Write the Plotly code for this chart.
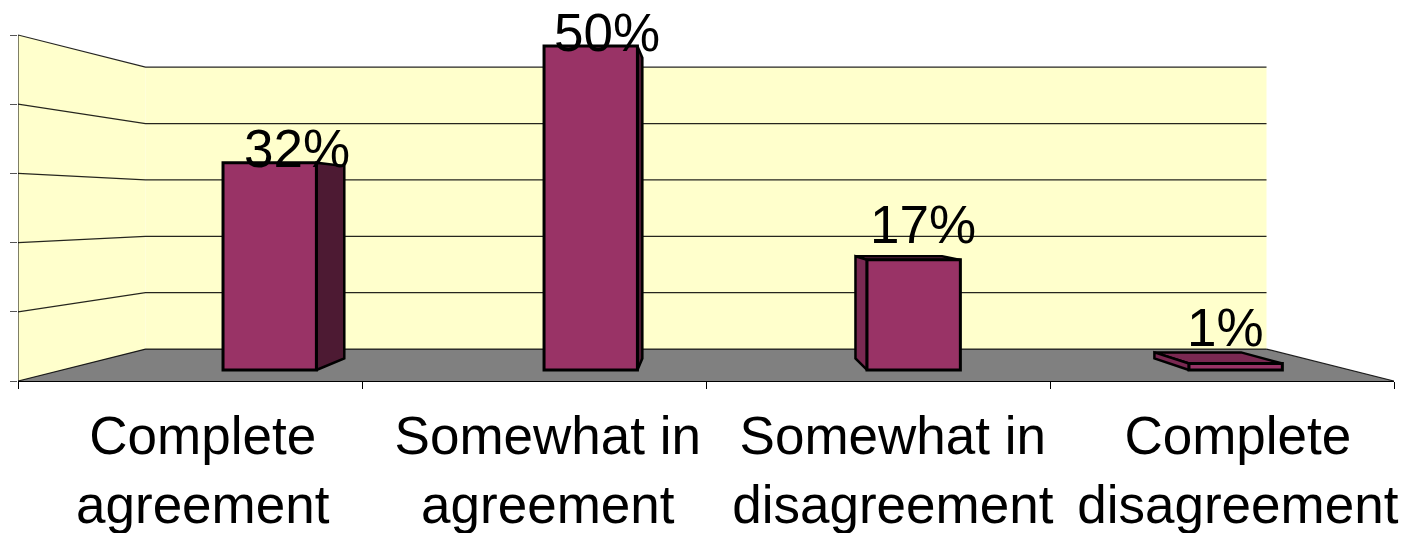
import plotly.graph_objects as go

# ---- data ----
categories = ["Complete<br>agreement", "Somewhat in<br>agreement",
              "Somewhat in<br>disagreement", "Complete<br>disagreement"]
values = [32, 50, 17, 1]
labels = ["32%", "50%", "17%", "1%"]
grid_values = [0, 10, 20, 30, 40, 50]
category_edges = [0, 1, 2, 3, 4]

# ---- perspective model (one vanishing point, front plane in axis units) ----
VP_X, VP_Y = 2.0, 24.9
DEPTH_BACK = 0.8147
DEPTH_BAR_FRONT = 0.936
DEPTH_BAR_BACK = 0.869
BAR_STARTS = [0.5, 1.497, 2.5, 3.5]
BAR_WIDTH = 0.29
PX_PER_Y = 6.92
Y_TOP = 381 / PX_PER_Y
TICK_LABEL_OFFSETS = [0.537, 0.54, 0.543, 0.546]
LABEL_XSHIFT = [27, 16, 9, -10]
LABEL_YSHIFT = [14, 14, 35, 36]


def proj(x, y, s):
    return VP_X + (x - VP_X) * s, VP_Y + (y - VP_Y) * s


def poly(points, fill, line=None, width=0, **kw):
    xs = [p[0] for p in points]
    ys = [p[1] for p in points]
    return go.Scatter(x=xs + xs[:1], y=ys + ys[:1], mode="lines", fill="toself",
                      fillcolor=fill, hoverinfo="skip", showlegend=False,
                      line=dict(color=line or fill, width=width), **kw)


fig = go.Figure()

# walls and floor
b0 = proj(0, 0, DEPTH_BACK)
b1 = proj(4, 0, DEPTH_BACK)
t0 = proj(0, 50, DEPTH_BACK)
t1 = proj(4, 50, DEPTH_BACK)
fig.add_trace(poly([(0, 0), b0, t0, (0, 50)], "#FFFFCC"))
fig.add_trace(poly([b0, b1, t1, t0], "#FFFFCC"))
fig.add_trace(poly([(0, 0), b0, b1, (4, 0)], "#808080"))

# grid lines
for g in grid_values:
    a = proj(0, g, DEPTH_BACK)
    c = proj(4, g, DEPTH_BACK)
    fig.add_trace(go.Scatter(x=[0, a[0], c[0]], y=[g, a[1], c[1]], mode="lines",
                             line=dict(color="#000000", width=1.2), opacity=0.85,
                             hoverinfo="skip", showlegend=False))
# floor edge at the right
fig.add_trace(go.Scatter(x=[b1[0], 4], y=[b1[1], 0], mode="lines",
                         line=dict(color="#000000", width=1.2), opacity=0.85,
                         hoverinfo="skip", showlegend=False))

# side and top faces of the bars
centers = []
for x0, v in zip(BAR_STARTS, values):
    x1 = x0 + BAR_WIDTH
    f = lambda x, y: proj(x, y, DEPTH_BAR_FRONT)
    k = lambda x, y: proj(x, y, DEPTH_BAR_BACK)
    centers.append(f((x0 + x1) / 2, 0)[0])
    if v < VP_Y:
        fig.add_trace(poly([f(x0, v), k(x0, v), k(x1, v), f(x1, v)], "#7A2952", "#000000", 2.5))
    if x1 < VP_X:
        fig.add_trace(poly([f(x1, 0), f(x1, v), k(x1, v), k(x1, 0)], "#4D1A33", "#000000", 2.5))
    else:
        fig.add_trace(poly([f(x0, 0), f(x0, v), k(x0, v), k(x0, 0)], "#7A2952", "#000000", 2.5))

# front faces: real bars on a value axis scaled for the depth of the bars
floor_bar = proj(0, 0, DEPTH_BAR_FRONT)[1]
y2_lo = (0 - floor_bar) / DEPTH_BAR_FRONT
y2_hi = (Y_TOP - floor_bar) / DEPTH_BAR_FRONT
fig.add_trace(go.Bar(x=centers, y=values, width=BAR_WIDTH * DEPTH_BAR_FRONT, yaxis="y2",
                     marker=dict(color="#993366", line=dict(color="#000000", width=3)),
                     hoverinfo="skip", showlegend=False))

for c, v, t, xs, ys in zip(centers, values, labels, LABEL_XSHIFT, LABEL_YSHIFT):
    fig.add_annotation(x=c, y=v, yref="y2", text=t, showarrow=False, xshift=xs, yshift=ys,
                       font=dict(size=53, color="#000000"), yanchor="middle", xanchor="center")

fig.update_layout(
    width=1405, height=533, margin=dict(l=18, r=11, t=0, b=152, autoexpand=False),
    paper_bgcolor="#FFFFFF", plot_bgcolor="rgba(0,0,0,0)",
    font=dict(family="Liberation Sans, Arial, sans-serif", color="#000000"),
    showlegend=False,
    xaxis=dict(range=[0, 4], tickmode="array", automargin=False,
               tickvals=[e + o for e, o in zip(category_edges[:-1], TICK_LABEL_OFFSETS)],
               ticktext=categories,
               ticks="", tickfont=dict(size=53), ticklabelstandoff=8,
               showgrid=False, zeroline=False, showline=True, linecolor="#000000", linewidth=1,
               minor=dict(tickmode="array", tickvals=category_edges, ticks="outside",
                          ticklen=7, tickcolor="#000000", tickwidth=1, showgrid=False)),
    yaxis=dict(range=[0, Y_TOP], tickmode="array", tickvals=grid_values, ticktext=[""] * 6,
               ticks="outside", ticklen=7, tickcolor="#555555", showgrid=False, zeroline=False,
               showline=False, automargin=False),
    yaxis2=dict(range=[y2_lo, y2_hi], overlaying="y", visible=False),
    shapes=[dict(type="line", xref="x", yref="y", x0=0, x1=0, y0=0, y1=50,
                 line=dict(color="#000000", width=1))],
)

fig.write_html("out.html", config={"displayModeBar": False},
               post_script="document.body.style.margin='0';")
